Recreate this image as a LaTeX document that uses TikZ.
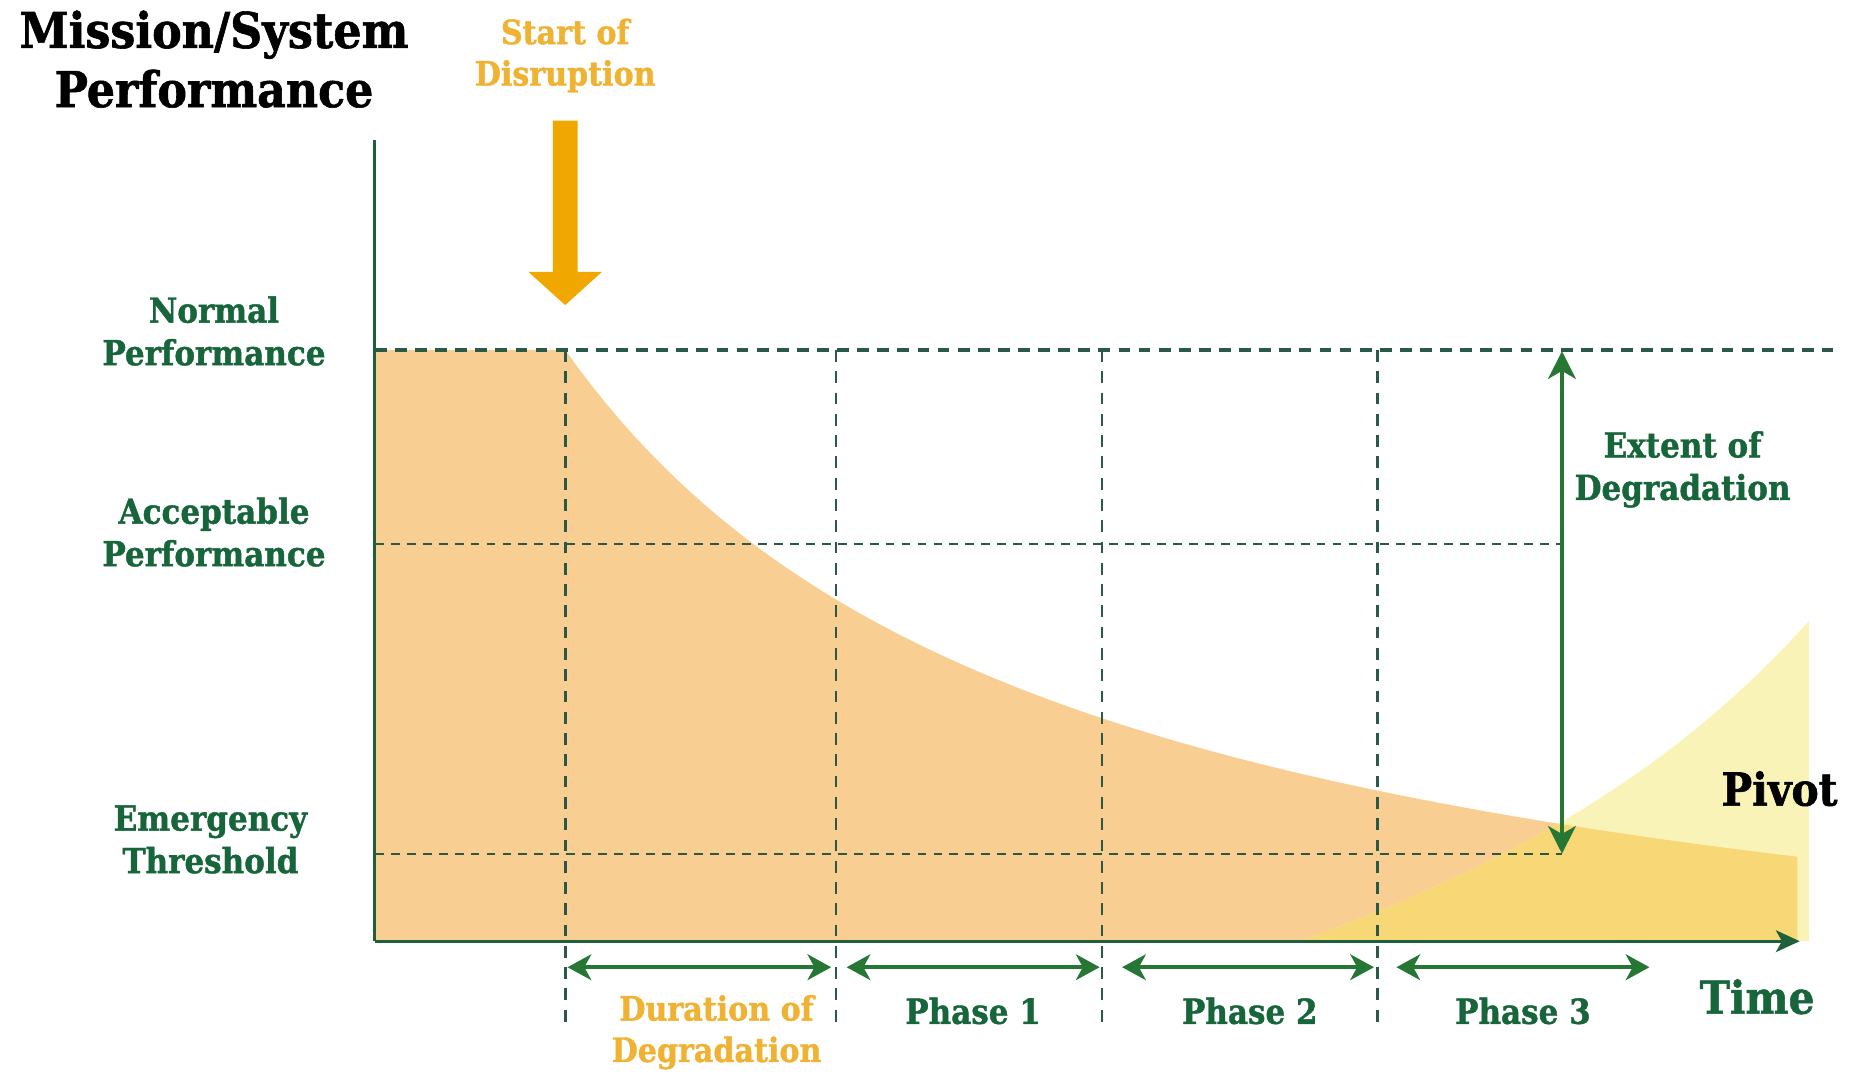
\documentclass[tikz,border=0pt]{standalone}
\usepackage{fontspec}
\IfFontExistsTF{DejaVu Serif Condensed}{\setmainfont{DejaVu Serif Condensed}[BoldFeatures={FakeBold=1.2}]}{\setmainfont{DejaVu Serif}[BoldFeatures={FakeBold=1.2}]}
\usetikzlibrary{arrows.meta}
\definecolor{gtext}{RGB}{23,101,58}
\definecolor{garrow}{RGB}{38,118,52}
\definecolor{dashcol}{RGB}{42,90,70}
\definecolor{axiscol}{RGB}{30,95,60}
\definecolor{otext}{RGB}{240,178,50}
\definecolor{oarrow}{RGB}{240,168,0}
\definecolor{forange}{RGB}{248,206,146}
\definecolor{fyellow}{RGB}{250,243,183}
\definecolor{foverlap}{RGB}{248,215,118}
\tikzset{
  lbl/.style={text=gtext,font=\bfseries\fontsize{17.5}{21.6}\selectfont,align=center,inner sep=0pt},
  olbl/.style={text=otext,font=\bfseries\fontsize{17}{21}\selectfont,align=center,inner sep=0pt},
  big/.style={text=black,font=\bfseries\fontsize{25}{30}\selectfont,align=center,inner sep=0pt},
  dashnormal/.style={draw=dashcol,line width=1.6pt,dash pattern=on 6pt off 4.2pt},
  dashfine/.style={draw=dashcol,line width=1.0pt,dash pattern=on 4.5pt off 3.6pt},
  dashvert/.style={draw=dashcol,line width=1.4pt,dash pattern=on 6pt off 4.8pt},
  axisline/.style={draw=axiscol,line width=1.6pt},
  garr/.style={draw=garrow,line width=2.2pt},
  gtip/.tip={Stealth[length=12pt,width=13pt,inset=3.5pt]},
  etip/.tip={Stealth[length=14pt,width=14pt,inset=4pt]},
}
\begin{document}
\begin{tikzpicture}[x=0.6pt,y=-0.6pt]
\useasboundingbox (0,0) rectangle (1568,907);
\def\orangepath{(317,296) -- (478,296) -- plot[domain=478:1520,samples=90] (\x,{900-2576.06/((\x-51.5)/100)}) -- (1520,796) -- (317,796) -- cycle}
\def\pivotpath{(1100,796) .. controls (1250,740) and (1400,670) .. (1530,525) -- (1530,796) -- cycle}
% fills
\fill[forange] \orangepath;
\fill[fyellow] \pivotpath;
\begin{scope}
  \clip \orangepath;
  \fill[foverlap] \pivotpath;
\end{scope}
% coordinates
\coordinate (o) at (317,796);
\coordinate (ytop) at (317,118);
\coordinate (xend) at (1522,796);
\coordinate (nL) at (317,296);
\coordinate (nR) at (1550,296);
\coordinate (aL) at (317,460);
\coordinate (aR) at (1321,460);
\coordinate (eL) at (317,722);
\coordinate (eR) at (1321,722);
\coordinate (xt) at (1321,297);
% grid
\draw[dashnormal] (nL) -- (nR);
\draw[dashfine] (aL) -- (aR);
\draw[dashfine] (eL) -- (eR);
\foreach \xx/\nm in {478/v0,707/v1,932/v2,1165/v3}{
  \coordinate (\nm t) at (\xx,296);
  \coordinate (\nm b) at (\xx,866);
  \draw[dashvert] (\nm t) -- (\nm b);
}
% axes
\draw[axisline] (o) -- (ytop);
\draw[axisline,-{Stealth[length=12pt,width=11pt,inset=3pt]}] (o) -- (xend);
% disruption arrow
\fill[oarrow] (467.5,102) -- (488.5,102) -- (488.5,230) -- (509,230) -- (478,258) -- (447,230) -- (467.5,230) -- cycle;
% extent arrow
\draw[garr,etip-etip] (xt) -- (eR);
% phase arrows
\coordinate (p0a) at (480,818); \coordinate (p0b) at (703,818);
\coordinate (p1a) at (716,818); \coordinate (p1b) at (930,818);
\coordinate (p2a) at (949,818); \coordinate (p2b) at (1162,818);
\coordinate (p3a) at (1181,818); \coordinate (p3b) at (1395,818);
\foreach \i in {0,1,2,3}{
  \draw[garr,gtip-gtip] (p\i a) -- (p\i b);
}
% labels
\node[big] (title) at (181,50) {Mission/System\\Performance};
\node[olbl] (start) at (478,47) {Start of\\Disruption};
\node[lbl] (normal) at (181,280) {Normal\\Performance};
\node[lbl] (accept) at (181,450) {Acceptable\\Performance};
\node[lbl] (emerg) at (178,710) {Emergency\\Threshold};
\node[lbl] (extent) at (1423,397) {Extent of\\Degradation};
\node[big,font=\bfseries\fontsize{23}{28}\selectfont] (pivot) at (1505,667) {Pivot};
\node[lbl,font=\bfseries\fontsize{23}{28}\selectfont] (time) at (1486,843) {Time};
\node[olbl] (dur) at (606,873) {Duration of\\Degradation};
\node[lbl] (ph1) at (823,855) {Phase 1};
\node[lbl] (ph2) at (1057,855) {Phase 2};
\node[lbl] (ph3) at (1288,855) {Phase 3};
\end{tikzpicture}
\end{document}
